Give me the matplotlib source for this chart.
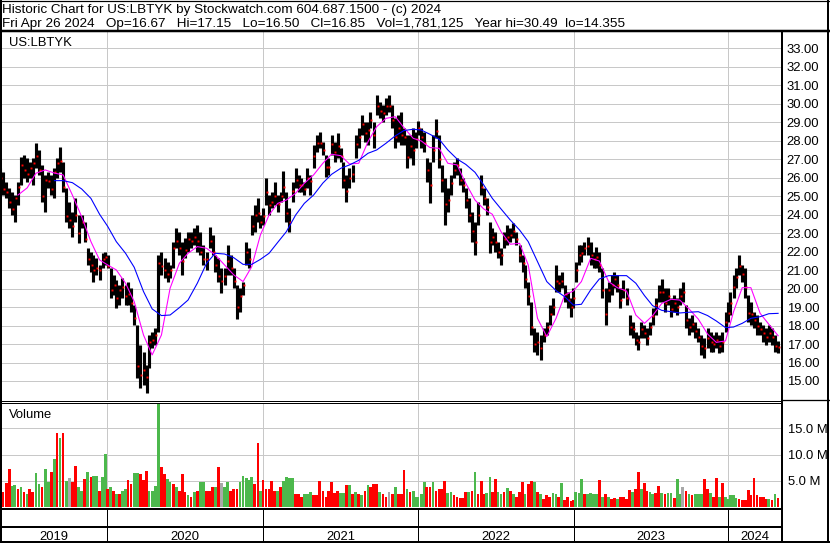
import numpy as np
import pandas as pd
import matplotlib
matplotlib.use("Agg")
import matplotlib.pyplot as plt
from matplotlib.ticker import FuncFormatter
from pandas.tseries.holiday import (AbstractHolidayCalendar, Holiday, nearest_workday,
                                    USMartinLutherKingJr, USPresidentsDay, GoodFriday,
                                    USMemorialDay, USLaborDay, USThanksgivingDay)

# ---- data: weekly bars (week ending Friday) ----
first_week = "2019-04-26"
n_weeks = 262

week_hi = [
    26.51, 26.33, 25.79, 25.43, 25.25, 25.06, 25.79, 27.14, 27.23, 27.05,
    26.87, 27.05, 27.86, 27.50, 26.69, 26.15, 26.33, 26.15, 26.51, 27.05,
    27.68, 26.87, 25.43, 24.70, 24.16, 24.88, 23.98, 23.98, 23.62, 22.18,
    22.00, 21.82, 21.64, 21.28, 21.91, 22.00, 21.82, 21.10, 20.74, 20.47,
    20.20, 20.56, 20.20, 20.38, 20.02, 19.11, 18.03, 16.95, 16.59, 15.87,
    17.49, 17.67, 17.85, 21.82, 22.00, 21.64, 21.46, 21.28, 22.54, 23.26,
    23.08, 22.54, 22.72, 23.08, 23.08, 23.26, 23.44, 23.08, 22.36, 22.00,
    23.35, 22.90, 21.82, 21.64, 21.10, 21.10, 22.36, 21.82, 21.10, 20.20,
    20.02, 20.38, 22.54, 22.18, 23.98, 24.52, 24.88, 23.98, 24.34, 25.97,
    25.06, 25.25, 25.79, 25.06, 25.25, 26.36, 25.25, 24.34, 25.79, 26.51,
    26.15, 25.97, 25.79, 26.51, 26.15, 27.77, 28.31, 28.49, 27.95, 27.23,
    27.05, 28.31, 27.95, 28.40, 27.59, 26.87, 26.15, 26.51, 26.69, 28.31,
    28.67, 29.39, 29.03, 29.03, 29.57, 29.03, 30.45, 30.11, 29.93, 30.29,
    30.49, 29.93, 29.21, 29.39, 29.57, 28.67, 28.31, 28.31, 28.67, 28.49,
    29.07, 28.67, 28.49, 27.05, 26.87, 28.31, 29.16, 28.31, 26.69, 25.97,
    25.43, 26.15, 26.87, 27.05, 26.51, 25.97, 25.43, 24.88, 24.16, 23.62,
    24.70, 26.15, 25.43, 24.88, 23.62, 23.26, 23.08, 22.54, 22.18, 23.08,
    23.44, 23.26, 23.53, 23.08, 22.36, 21.82, 21.28, 20.38, 19.29, 17.85,
    17.67, 17.49, 17.85, 18.21, 19.11, 19.47, 21.28, 20.74, 20.92, 20.20,
    19.84, 19.47, 20.02, 21.46, 22.36, 22.36, 22.54, 22.81, 22.54, 22.00,
    22.27, 22.00, 21.10, 20.02, 20.38, 20.74, 20.92, 20.74, 20.02, 20.47,
    20.02, 18.57, 18.21, 17.67, 17.49, 18.21, 18.03, 17.85, 18.21, 18.93,
    19.47, 20.20, 20.50, 20.02, 20.02, 19.47, 19.65, 19.47, 20.02, 20.34,
    19.11, 18.39, 18.57, 18.21, 17.85, 17.49, 17.31, 17.85, 17.67, 17.49,
    17.67, 17.49, 17.67, 18.75, 19.29, 19.84, 20.74, 21.10, 21.82, 21.28,
    21.10, 19.65, 19.29, 18.75, 18.57, 18.21, 18.03, 17.85, 18.03, 17.85,
    17.49, 17.15]

week_lo = [
    25.61, 25.06, 24.88, 24.34, 23.98, 23.62, 24.52, 25.61, 25.97, 25.79,
    25.97, 25.61, 26.51, 26.15, 24.70, 24.16, 25.43, 25.06, 24.88, 25.97,
    26.33, 25.25, 23.62, 23.26, 22.81, 23.62, 22.45, 23.26, 22.54, 21.28,
    20.92, 20.38, 20.74, 20.47, 21.10, 21.28, 21.10, 19.47, 19.65, 18.93,
    19.11, 19.47, 19.11, 19.11, 18.75, 18.03, 15.15, 14.61, 14.79, 14.36,
    15.69, 16.77, 16.95, 17.67, 20.74, 20.56, 20.38, 20.56, 21.10, 22.18,
    21.82, 20.74, 21.64, 22.00, 22.18, 22.36, 22.00, 21.82, 21.28, 21.01,
    22.18, 21.82, 20.92, 20.38, 19.74, 20.20, 20.74, 20.74, 20.02, 18.36,
    18.75, 19.65, 21.28, 21.10, 22.90, 23.08, 23.62, 23.26, 23.44, 24.52,
    23.98, 24.34, 24.52, 24.16, 24.70, 24.88, 23.62, 23.08, 24.70, 25.43,
    25.25, 25.25, 25.06, 25.43, 25.06, 26.51, 27.41, 27.59, 27.23, 26.06,
    26.15, 27.23, 26.87, 27.05, 26.87, 25.43, 24.70, 25.43, 25.79, 27.05,
    27.59, 28.31, 27.95, 27.77, 28.67, 27.59, 29.39, 29.21, 29.03, 29.39,
    29.57, 28.67, 27.59, 27.95, 27.77, 27.77, 26.51, 27.05, 26.69, 27.59,
    28.31, 27.59, 27.41, 25.79, 24.61, 26.87, 28.13, 26.51, 25.25, 23.44,
    24.16, 25.06, 25.97, 26.15, 25.61, 25.25, 24.34, 23.62, 22.54, 21.82,
    23.44, 25.06, 24.52, 23.98, 21.91, 22.36, 22.00, 21.64, 21.28, 22.18,
    22.36, 22.54, 22.72, 22.36, 21.46, 20.92, 20.02, 19.11, 17.49, 16.59,
    16.41, 16.14, 17.13, 17.49, 18.03, 18.57, 19.84, 19.84, 20.02, 19.29,
    18.93, 18.48, 18.93, 20.38, 21.28, 21.46, 21.82, 21.82, 21.28, 21.10,
    21.10, 20.92, 19.47, 18.03, 19.29, 19.65, 20.02, 19.84, 18.93, 19.47,
    19.11, 17.49, 17.31, 16.95, 16.68, 17.31, 17.31, 16.95, 17.49, 18.03,
    18.57, 19.29, 19.29, 18.75, 19.11, 18.48, 18.75, 18.57, 19.11, 19.29,
    17.85, 17.49, 17.67, 17.31, 17.13, 16.41, 16.26, 16.77, 16.59, 16.59,
    16.77, 16.50, 16.59, 17.67, 18.21, 18.57, 19.47, 20.02, 20.74, 20.38,
    19.47, 18.21, 18.03, 17.85, 17.49, 17.49, 17.13, 16.95, 17.13, 16.95,
    16.59, 16.50]

week_close = [
    26.0, 25.4, 25.2, 24.7, 24.3, 24.9, 25.5, 26.7, 26.4, 26.2,
    26.5, 26.8, 27.2, 26.4, 25.0, 25.9, 25.8, 25.4, 26.3, 26.8,
    26.9, 25.5, 23.9, 23.7, 23.4, 24.0, 23.0, 23.6, 22.7, 21.6,
    21.3, 21.0, 21.1, 21.0, 21.6, 21.7, 21.2, 19.9, 20.2, 19.5,
    19.9, 20.1, 19.6, 19.7, 19.2, 18.4, 15.8, 15.3, 15.6, 15.2,
    17.1, 17.2, 17.5, 21.4, 21.2, 21.0, 20.8, 21.0, 22.2, 22.6,
    22.2, 21.5, 22.1, 22.7, 22.6, 22.8, 22.6, 22.0, 21.6, 21.6,
    22.6, 22.0, 21.3, 20.7, 20.4, 20.7, 21.5, 21.1, 20.4, 19.0,
    19.6, 20.2, 22.0, 21.6, 23.4, 24.0, 24.1, 23.6, 23.9, 25.2,
    24.5, 24.7, 25.0, 24.6, 25.0, 25.5, 24.1, 23.6, 25.3, 25.9,
    25.6, 25.6, 25.4, 26.0, 25.8, 27.2, 27.9, 27.9, 27.5, 26.6,
    26.6, 27.8, 27.4, 27.7, 27.2, 25.9, 25.3, 26.0, 26.2, 27.8,
    28.2, 28.9, 28.4, 28.6, 29.1, 28.3, 29.9, 29.6, 29.5, 29.9,
    29.9, 29.1, 28.2, 28.7, 28.3, 28.2, 27.1, 27.7, 27.5, 28.1,
    28.7, 28.2, 27.9, 26.4, 25.6, 27.5, 28.5, 27.0, 25.9, 24.6,
    24.8, 25.7, 26.4, 26.7, 25.9, 25.6, 24.8, 24.0, 23.1, 22.5,
    24.0, 25.5, 24.9, 24.4, 22.5, 22.8, 22.5, 22.0, 21.8, 22.7,
    22.8, 22.9, 23.1, 22.7, 21.8, 21.4, 20.5, 19.6, 17.9, 17.0,
    17.1, 16.8, 17.5, 17.9, 18.6, 19.0, 20.4, 20.3, 20.4, 19.7,
    19.4, 19.0, 19.5, 21.0, 21.8, 21.9, 22.2, 22.3, 21.8, 21.6,
    21.7, 21.3, 19.9, 18.6, 19.9, 20.2, 20.5, 20.2, 19.4, 19.9,
    19.5, 17.9, 17.8, 17.2, 17.1, 17.8, 17.6, 17.3, 17.9, 18.5,
    19.1, 19.8, 19.8, 19.2, 19.6, 18.9, 19.2, 19.0, 19.6, 19.8,
    18.3, 17.9, 18.1, 17.7, 17.4, 16.9, 16.8, 17.3, 17.1, 17.0,
    17.2, 16.9, 17.1, 18.2, 18.7, 19.2, 20.1, 20.6, 21.2, 20.8,
    20.1, 18.7, 18.6, 18.3, 18.0, 17.8, 17.6, 17.4, 17.6, 17.4,
    16.9, 16.85]

# moving averages, sampled every 3rd week
ma_fast_start = 6
ma_fast = [
    25.06, 25.45, 26.24, 26.42, 26.25, 26.15, 25.06, 23.89, 22.54, 21.55,
    21.28, 21.01, 20.29, 19.29, 17.49, 16.41, 17.49, 20.02, 21.37, 21.91,
    22.27, 22.18, 21.82, 21.28, 20.74, 20.38, 21.19, 22.90, 23.98, 24.61,
    24.79, 25.16, 25.70, 26.15, 26.78, 27.27, 27.19, 26.74, 26.78, 27.95,
    28.76, 29.21, 29.30, 28.71, 28.13, 27.99, 27.63, 27.59, 26.78, 26.69,
    25.70, 24.79, 24.31, 24.02, 23.08, 22.40, 22.45, 21.28, 18.39, 17.40,
    18.39, 19.65, 19.87, 20.38, 21.64, 21.49, 20.38, 20.05, 19.87, 18.57,
    18.12, 18.53, 19.20, 19.42, 19.38, 18.90, 18.35, 17.54, 17.09, 17.17,
    18.75, 20.05, 20.05, 18.66, 18.07, 17.45]

ma_slow_start = 18
ma_slow = [
    25.84, 25.84, 25.73, 25.39, 24.88, 24.02, 23.37, 22.54, 21.91, 21.15,
    19.84, 18.90, 18.54, 18.57, 18.97, 19.38, 20.29, 21.37, 21.91, 21.87,
    21.67, 21.31, 21.31, 21.58, 21.91, 22.50, 23.08, 23.98, 24.61, 25.06,
    25.71, 26.18, 26.51, 26.69, 26.94, 27.32, 27.50, 27.86, 28.26, 28.55,
    28.62, 28.58, 28.35, 28.08, 27.50, 27.01, 26.72, 26.29, 25.61, 24.88,
    24.31, 23.71, 23.17, 22.54, 21.46, 20.38, 19.89, 19.56, 19.11, 19.15,
    19.93, 20.52, 20.70, 20.70, 20.70, 20.29, 19.62, 19.08, 18.82, 18.75,
    18.68, 18.72, 18.75, 18.54, 18.25, 17.89, 17.92, 18.12, 18.39, 18.48,
    18.64, 18.66]

# volume in millions, colour: g = up, r = down, n = unchanged
week_vol = [
    2.5, 2.8, 4.5, 7.2, 4.0, 4.2, 3.4, 3.8, 2.8, 2.5,
    3.4, 2.8, 6.4, 4.4, 3.8, 7.2, 4.7, 6.6, 9.1, 14.1,
    13.1, 14.1, 5.0, 5.5, 4.7, 7.9, 3.8, 3.1, 5.3, 6.75,
    5.75, 5.9, 5.9, 3.1, 5.75, 10.1, 3.4, 3.8, 3.1, 2.5,
    2.5, 3.1, 3.4, 5.1, 4.4, 6.4, 6.4, 6.25, 5.1, 6.9,
    3.1, 3.1, 4.1, 19.9, 7.6, 6.25, 5.3, 4.7, 4.4, 3.8,
    3.1, 6.25, 2.8, 2.2, 1.9, 2.8, 3.1, 4.7, 4.7, 3.1,
    3.1, 3.8, 3.8, 7.6, 4.5, 3.8, 4.7, 3.1, 3.4, 3.4,
    4.7, 5.9, 5.6, 5.1, 5.75, 4.4, 12.2, 3.1, 5.1, 3.4,
    3.4, 4.9, 3.1, 3.1, 3.8, 5.0, 5.75, 5.5, 5.5, 2.5,
    2.5, 1.9, 2.5, 2.5, 2.8, 2.2, 2.2, 4.9, 3.1, 1.9,
    3.1, 4.7, 2.6, 3.1, 2.6, 2.6, 4.25, 4.25, 2.5, 2.8,
    2.5, 2.2, 3.1, 4.25, 3.9, 4.4, 4.4, 2.8, 2.4, 1.9,
    2.8, 2.5, 3.75, 2.5, 2.5, 7.0, 3.4, 2.8, 3.1, 1.9,
    1.9, 2.4, 4.7, 3.75, 3.9, 4.7, 3.1, 3.4, 3.4, 5.0,
    2.6, 2.8, 2.2, 1.9, 1.8, 1.8, 2.8, 2.8, 3.1, 6.75,
    2.5, 4.9, 2.5, 2.6, 5.8, 2.8, 5.3, 2.8, 2.5, 2.8,
    3.6, 3.0, 2.5, 1.9, 2.8, 4.7, 2.5, 4.4, 4.9, 4.8,
    2.8, 2.4, 1.6, 2.2, 1.9, 2.6, 2.5, 1.9, 4.5, 1.4,
    1.9, 1.1, 1.4, 2.8, 2.6, 5.4, 2.4, 2.5, 2.6, 2.5,
    2.5, 5.1, 2.0, 2.5, 1.9, 1.6, 1.75, 1.6, 1.9, 1.9,
    1.6, 3.25, 2.8, 3.4, 6.6, 3.4, 4.5, 3.0, 2.8, 2.5,
    2.6, 4.1, 2.6, 2.5, 2.6, 2.6, 1.75, 5.4, 2.5, 3.9,
    3.0, 2.5, 2.2, 2.5, 2.5, 2.5, 5.3, 3.4, 2.6, 1.9,
    5.6, 1.9, 4.5, 1.9, 1.6, 2.2, 2.2, 1.75, 1.6, 1.4,
    1.4, 3.25, 2.2, 5.5, 2.2, 1.9, 1.9, 1.6, 1.6, 1.4,
    2.5, 1.78]

vol_dir = ("grrrggrgrg" "rrggrggrgr" "grgnrrggrg" "rggrggrgrg" "rggrrggrrr"
           "ggggrrggrg" "rrrgrgrggr" "rrgrnggrrr" "gggggrrgrr" "rrrgrggggr"
           "rrgggrrrrr" "rrrrggrgrg" "rgrgrrrgrr" "nrgrrrgrgg" "gggrrgrrrr"
           "ggrrrrrgrg" "rrrggrrggr" "grgrrrgrrg" "rgrrrggrgr" "rrrgggrggg"
           "grgrgrrgrr" "rrgrrgrrgg" "rrgrggrggn" "rgrgggrrgr" "rgrgggggrr"
           "rrrrrrrrgr" "gr")

price_ticks = list(range(15, 34))
vol_ticks = [5, 10, 15]
years = [2019, 2020, 2021, 2022, 2023, 2024]

title1 = "Historic Chart for US:LBTYK by Stockwatch.com 604.687.1500 - (c) 2024"
title2 = ("Fri Apr 26 2024   Op=16.67   Hi=17.15   Lo=16.50   Cl=16.85   "
          "Vol=1,781,125   Year hi=30.49  lo=14.355")


class NYSECalendar(AbstractHolidayCalendar):
    rules = [
        Holiday("NewYear", month=1, day=1, observance=nearest_workday),
        USMartinLutherKingJr, USPresidentsDay, GoodFriday, USMemorialDay,
        Holiday("Juneteenth", month=6, day=19, start_date="2022-01-01",
                observance=nearest_workday),
        Holiday("July4", month=7, day=4, observance=nearest_workday),
        USLaborDay, USThanksgivingDay,
        Holiday("Christmas", month=12, day=25, observance=nearest_workday),
    ]


weeks = pd.date_range(first_week, periods=n_weeks, freq="7D")
hol = NYSECalendar().holidays(weeks[0], weeks[-1] + pd.Timedelta(days=30))
sessions = pd.bdate_range(weeks[0], weeks[-1] + pd.Timedelta(days=30), freq="C", holidays=hol)
xpos = sessions.searchsorted(weeks, side="right") - 1
year_edges = [sessions.searchsorted(pd.Timestamp(f"{y}-01-01")) - 0.5 for y in years[1:]]

plt.rcParams["font.family"] = ["Liberation Sans", "DejaVu Sans"]
FS = 9.4
FS_HEAD = 9.7
PX = 0.72  # one pixel in points

W, H = 830, 543
fig = plt.figure(figsize=(W / 100, H / 100), dpi=100)


def rect(x0, y0, x1, y1):
    return [x0 / W, 1 - y1 / H, (x1 - x0) / W, (y1 - y0) / H]


# x scale: year lines sit at these pixel columns in the original
scale = (728.3 - 106.7) / (year_edges[-1] - year_edges[0])
x_left = year_edges[0] - (106.7 - 2) / scale
x_right = x_left + 779 / scale
grid_c = "#c8c8c8"

# ---- price panel ----
ax = fig.add_axes(rect(2, 31.5, 781, 400))
ax.vlines(xpos, week_lo, week_hi, color="black", lw=3.1 * PX, zorder=3)
ax.plot(xpos + 1.4, week_close, ls="none", marker="s", ms=1.4, color="#ff0000",
        mec="none", zorder=4)
ax.plot(xpos[ma_fast_start::3], ma_fast, color="#ff00ff", lw=1.1 * PX, zorder=5)
ax.plot(xpos[ma_slow_start::3], ma_slow, color="#0000ff", lw=1.1 * PX, zorder=5)
ax.set_xlim(x_left, x_right)
ax.set_ylim(15 - (400 - 381) / 18.483, 33 + (48.3 - 31.5) / 18.483)
ax.set_yticks(price_ticks)
ax.set_xticks(year_edges)
ax.grid(True, color=grid_c, lw=PX, zorder=0)
ax.yaxis.tick_right()
ax.yaxis.set_major_formatter(FuncFormatter(lambda v, p: f"{v:.2f}"))
ax.tick_params(length=0, labelbottom=False, labelsize=FS, pad=4.2)
for s in ax.spines.values():
    s.set_visible(False)

# ---- volume panel ----
axv = fig.add_axes(rect(2, 402.5, 781, 507))
cols = {"g": "#4cb84c", "r": "#ff0000", "n": "#a8a8a8"}
axv.bar(xpos, np.array(week_vol), width=4.4, color=[cols[c] for c in vol_dir],
        linewidth=0, zorder=3)
axv.set_xlim(x_left, x_right)
axv.set_ylim(0, (507 - 402.5) / 5.24)
axv.set_yticks(vol_ticks)
axv.set_xticks(year_edges)
axv.grid(True, color=grid_c, lw=PX, zorder=0)
axv.yaxis.tick_right()
axv.yaxis.set_major_formatter(FuncFormatter(lambda v, p: f"{v:.1f} M"))
axv.tick_params(length=0, labelbottom=False, labelsize=FS, pad=4.8)
for s in axv.spines.values():
    s.set_visible(False)

# ---- year strip ----
axd = fig.add_axes(rect(2, 509, 781, 542))
axd.set_xlim(x_left, x_right)
axd.set_ylim(0, 1)
for e in year_edges:
    axd.axvline(e, color="black", lw=PX)
bounds = [x_left] + year_edges + [x_right]
for y, a, b in zip(years, bounds[:-1], bounds[1:]):
    axd.text((a + b) / 2, (542 - 539.5) / 33, str(y), ha="center", va="baseline",
             fontsize=FS)
axd.axis("off")

# ---- frame and header ----
ov = fig.add_axes([0, 0, 1, 1], zorder=10)
ov.set_xlim(0, W)
ov.set_ylim(H, 0)
ov.axis("off")
ov.patch.set_visible(False)


def seg(x0, y0, x1, y1, w):
    ov.plot([x0, x1], [y0, y1], color="black", lw=w * PX, solid_capstyle="butt")


seg(0, 0.5, W, 0.5, 1.2)
seg(1, 0, 1, H, 2)
seg(828.4, 0, 828.4, H, 2)
seg(0, 542, W, 542, 2)
seg(0, 30.7, W, 30.7, 2.5)
seg(781.7, 30.7, 781.7, H, 2)
seg(0, 400.5, 781.7, 400.5, 1)
seg(0, 402.6, 781.7, 402.6, 1)
seg(781.7, 400, W, 400, 1.3)
seg(0, 509, 781.7, 509, 2)
seg(0, 526.5, 781.7, 526.5, 2)

ov.text(2, 13.3, title1, fontsize=FS_HEAD, va="baseline", ha="left")
ov.text(2, 26.7, title2, fontsize=FS_HEAD, va="baseline", ha="left")
ov.text(9, 45.7, "US:LBTYK", fontsize=FS, va="baseline", ha="left")
ov.text(9, 417.7, "Volume", fontsize=FS, va="baseline", ha="left")

fig.savefig("out.png", dpi=100)
